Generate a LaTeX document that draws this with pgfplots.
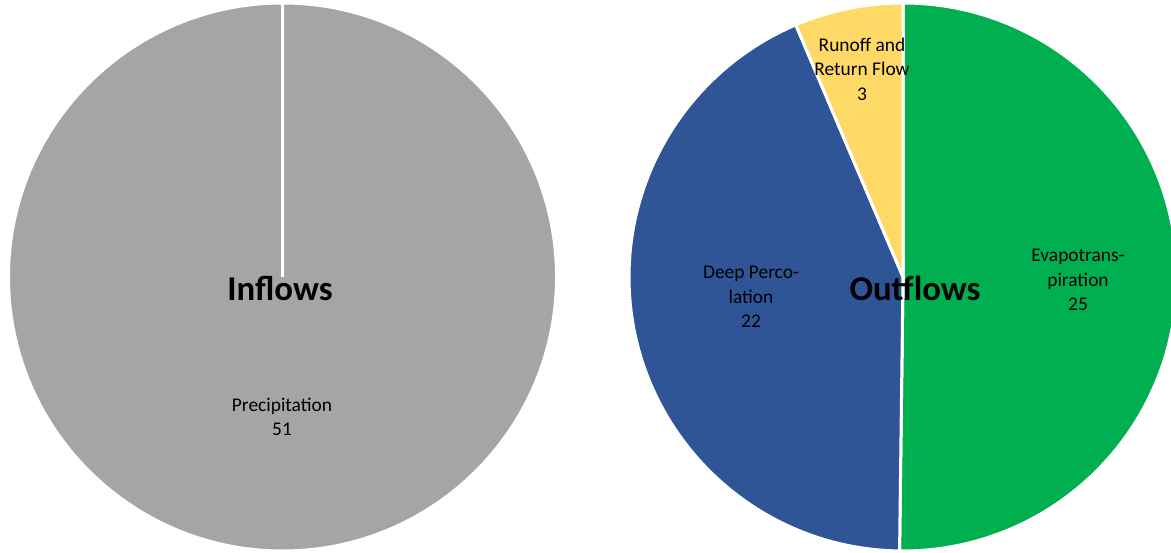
\documentclass[border=0pt]{standalone}
\usepackage{pgfplots}
\pgfplotsset{compat=1.18}
\usepackage{pgfplotstable}
\usepackage{fontspec}
\setmainfont{Carlito}
\definecolor{pgray}{HTML}{A5A5A5}
\definecolor{pblue}{HTML}{2F5597}
\definecolor{pgreen}{HTML}{00B050}
\definecolor{pyellow}{HTML}{FFD966}

\pgfplotstableread{
name value
Precipitation 51
}\inflows
\pgfplotstableread{
name value
Evapotranspiration 25.1
DeepPercolation 21.7
Runoff 3.2
}\outflows

\begin{document}
\begin{tikzpicture}
\pgfplotstablegetelem{0}{value}\of\outflows \let\vE\pgfplotsretval
\pgfplotstablegetelem{1}{value}\of\outflows \let\vD\pgfplotsretval
\pgfplotstablegetelem{2}{value}\of\outflows \let\vR\pgfplotsretval
\pgfmathsetmacro\tot{\vE+\vD+\vR}
\pgfmathsetmacro\aE{90-360*\vE/\tot}
\pgfmathsetmacro\aD{\aE-360*\vD/\tot}
\def\R{137pt}
\begin{axis}[hide axis, x=0.5pt, y=0.5pt, xmin=0, xmax=1171, ymin=0, ymax=552,
  clip=true, disabledatascaling]
% Inflows pie
\filldraw[fill=pgray, draw=white, line width=1.5pt] (axis cs:282.5,275) -- ++(90:\R) arc[start angle=90, end angle=-270, radius=\R] -- cycle;
% Outflows pie
\filldraw[fill=pgreen, draw=white, line width=1.5pt] (axis cs:903,275) -- ++(90:\R) arc[start angle=90, end angle=\aE, radius=\R] -- cycle;
\filldraw[fill=pblue, draw=white, line width=1.5pt] (axis cs:903,275) -- ++(\aE:\R) arc[start angle=\aE, end angle=\aD, radius=\R] -- cycle;
\filldraw[fill=pyellow, draw=white, line width=1.5pt] (axis cs:903,275) -- ++(\aD:\R) arc[start angle=\aD, end angle=-270, radius=\R] -- cycle;
% labels
\node[font=\fontsize{17.4}{20}\selectfont\bfseries] at (axis cs:280,264) {Inflows};
\node[font=\fontsize{17.4}{20}\selectfont\bfseries] at (axis cs:915,264) {Outflows};
\node[align=center, font=\fontsize{9.7}{12.3}\selectfont] at (axis cs:282,135) {Precipitation\\51};
\node[align=center, font=\fontsize{9.7}{12.3}\selectfont] at (axis cs:862,483) {Runoff and\\Return Flow\\3};
\node[align=center, font=\fontsize{9.7}{12.3}\selectfont] at (axis cs:751,255) {Deep Perco-\\lation\\22};
\node[align=center, font=\fontsize{9.7}{12.3}\selectfont] at (axis cs:1078,272) {Evapotrans-\\piration\\25};
\end{axis}
\pgfresetboundingbox
\useasboundingbox (0,0) rectangle (585.5pt,276pt);
\end{tikzpicture}
\end{document}
